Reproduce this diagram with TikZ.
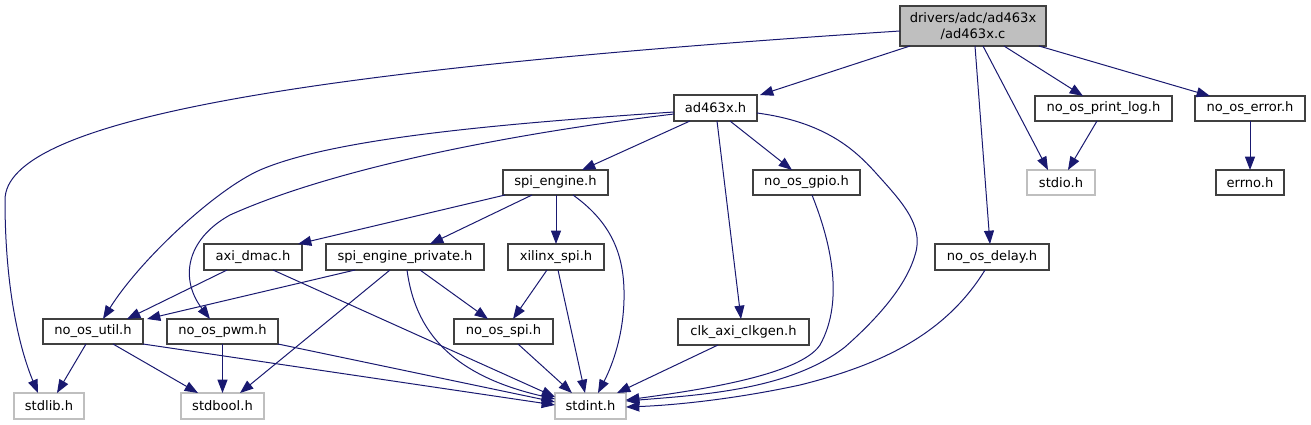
\documentclass[tikz,border=0pt]{standalone}
\usepackage{fontspec}
\setmainfont{DejaVu Sans}
\usetikzlibrary{arrows.meta,calc}
\definecolor{edgec}{HTML}{191970}
\definecolor{bordc}{HTML}{404040}
\definecolor{greyc}{HTML}{BFBFBF}
\begin{document}
\begin{tikzpicture}[x=0.75pt,y=-0.75pt,
  every node/.style={font=\fontsize{9.8}{11.5}\selectfont, inner sep=0pt, outer sep=0pt},
  sz/.style 2 args={minimum width=#1*0.75pt, minimum height=#2*0.75pt},
  fbox/.style={draw=bordc, line width=0.9pt, fill=white},
  gbox/.style={draw=greyc, line width=0.9pt, fill=white},
  mbox/.style={draw=bordc, line width=0.9pt, fill=greyc, align=center},
  dep/.style={draw=edgec, line width=0.75pt, -{Triangle[length=10pt,width=7.5pt]}, shorten >=0pt}
]
\useasboundingbox (0,0) rectangle (1311,425);

% nodes
\node[mbox, sz={146}{40}] (main) at (973,26) {drivers/adc/ad463x\\/ad463x.c};
\node[fbox, sz={83}{26}] (ad) at (715.5,108) {ad463x.h};
\node[fbox, sz={137}{25}] (print) at (1103.5,108.5) {no\_os\_print\_log.h};
\node[fbox, sz={110}{25}] (error) at (1250,108.5) {no\_os\_error.h};
\node[gbox, sz={68}{25}] (stdio) at (1061,182.5) {stdio.h};
\node[fbox, sz={68}{25}] (errno) at (1250,182.5) {errno.h};
\node[fbox, sz={105}{25}] (spieng) at (555.5,182.5) {spi\_engine.h};
\node[fbox, sz={107}{25}] (gpio) at (806.5,182.5) {no\_os\_gpio.h};
\node[fbox, sz={98}{26}] (axi) at (253,257) {axi\_dmac.h};
\node[fbox, sz={158}{26}] (priv) at (405,257) {spi\_engine\_private.h};
\node[fbox, sz={96}{26}] (xil) at (556,257) {xilinx\_spi.h};
\node[fbox, sz={114}{26}] (delay) at (992,257) {no\_os\_delay.h};
\node[fbox, sz={100}{25}] (util) at (93,331.5) {no\_os\_util.h};
\node[fbox, sz={111}{25}] (pwm) at (222.5,331.5) {no\_os\_pwm.h};
\node[fbox, sz={99}{25}] (spi) at (503.5,331.5) {no\_os\_spi.h};
\node[fbox, sz={131}{26}] (clk) at (743.5,332) {clk\_axi\_clkgen.h};
\node[gbox, sz={70}{26}] (stdlib) at (49,406) {stdlib.h};
\node[gbox, sz={83}{26}] (stdbool) at (222.5,406) {stdbool.h};
\node[gbox, sz={71}{26}] (stdint) at (590.5,406) {stdint.h};

% edges from main
\draw[dep] ($(main.west)+(0,5)$) .. controls (300,70) and (5,120) .. (5,200)
  .. controls (5,290) and (20,350) .. ($(stdlib.north west)+(24,0)$);
\draw[dep] ($(main.south west)+(10,0)$) -- ($(ad.north east)+(3,0)$);
\draw[dep] ($(main.south west)+(83,0)$) -- ($(stdio.north west)+(21,0)$);
\draw[dep] ($(main.south west)+(104,0)$) -- ($(print.north west)+(48,0)$);
\draw[dep] ($(main.south west)+(139,0)$) -- ($(error.north west)+(15,0)$);
\draw[dep] ($(main.south west)+(75,0)$) -- ($(delay.north west)+(55,0)$);
\draw[dep] ($(print.south west)+(62,0)$) -- ($(stdio.north west)+(41,0)$);
\draw[dep] (error.south) -- (errno.north);

% edges from ad463x.h
\draw[dep] ($(ad.south west)+(16,0)$) -- ($(spieng.north west)+(79,0)$);
\draw[dep] ($(ad.south west)+(56,0)$) -- ($(gpio.north west)+(39,0)$);
\draw[dep] ($(ad.south west)+(43,0)$) -- ($(clk.north west)+(63,0)$);
\draw[dep] ($(ad.east)+(0,5)$) .. controls (825,122) and (855,150) .. (875,172)
  .. controls (900,200) and (925,225) .. (915,255)
  .. controls (905,290) and (870,325) .. (845,347)
  .. controls (790,390) and (700,395) .. ($(stdint.east)+(0,-5)$);
\draw[dep] ($(ad.west)+(0,4)$) .. controls (480,125) and (330,140) .. (260,170)
  .. controls (215,190) and (140,260) .. ($(util.north)+(10,0)$);
\draw[dep] ($(ad.west)+(0,6)$) .. controls (500,135) and (330,170) .. (230,215)
  .. controls (185,240) and (180,280) .. ($(pwm.north west)+(43,0)$);

% edges from spi_engine.h
\draw[dep] ($(spieng.south west)+(2,0)$) -- ($(axi.north east)+(-4,0)$);
\draw[dep] ($(spieng.south west)+(29,0)$) -- ($(priv.north west)+(104,0)$);
\draw[dep] ($(spieng.south west)+(53,0)$) -- (xil.north);
\draw[dep] ($(spieng.south west)+(70,0)$) .. controls (615,225) and (625,260) .. (624,300)
  .. controls (623,340) and (610,370) .. ($(stdint.north east)+(-28,0)$);

% no_os_gpio.h
\draw[dep] ($(gpio.south west)+(59,0)$) .. controls (830,240) and (845,300) .. (820,345)
  .. controls (800,375) and (700,390) .. ($(stdint.east)+(0,-6)$);

% axi_dmac.h
\draw[dep] ($(axi.south west)+(23,0)$) -- ($(util.north west)+(84,0)$);
\draw[dep] ($(axi.south west)+(69,0)$) -- ($(stdint.west)+(0,-9)$);

% spi_engine_private.h
\draw[dep] ($(priv.south west)+(29,0)$) -- ($(util.north east)+(4,0)$);
\draw[dep] ($(priv.south west)+(64,0)$) -- ($(stdbool.north west)+(59,0)$);
\draw[dep] ($(priv.south west)+(81,0)$) .. controls (415,330) and (450,375) .. ($(stdint.west)+(0,-7)$);
\draw[dep] ($(priv.south west)+(94,0)$) -- ($(spi.north west)+(34,0)$);

% xilinx_spi.h
\draw[dep] ($(xil.south west)+(39,0)$) -- ($(spi.north west)+(59,0)$);
\draw[dep] ($(xil.south west)+(50,0)$) -- ($(stdint.north west)+(30,0)$);

% no_os_delay.h
\draw[dep] ($(delay.south west)+(50,0)$) .. controls (945,335) and (880,365) .. (800,385)
  .. controls (740,398) and (680,405) .. ($(stdint.east)+(0,1)$);

% no_os_util.h
\draw[dep] ($(util.south west)+(43,0)$) -- ($(stdlib.north west)+(43,0)$);
\draw[dep] ($(util.south west)+(70,0)$) -- ($(stdbool.north west)+(17,0)$);
\draw[dep] (util.south east) -- ($(stdint.west)+(0,-1)$);

% no_os_pwm.h
\draw[dep] (pwm.south) -- (stdbool.north);
\draw[dep] (pwm.south east) -- ($(stdint.west)+(0,-4)$);

% no_os_spi.h
\draw[dep] ($(spi.south west)+(64,0)$) -- ($(stdint.north west)+(17,0)$);

% clk_axi_clkgen.h
\draw[dep] ($(clk.south west)+(40,0)$) -- ($(stdint.north east)+(-9,0)$);
\end{tikzpicture}
\end{document}
